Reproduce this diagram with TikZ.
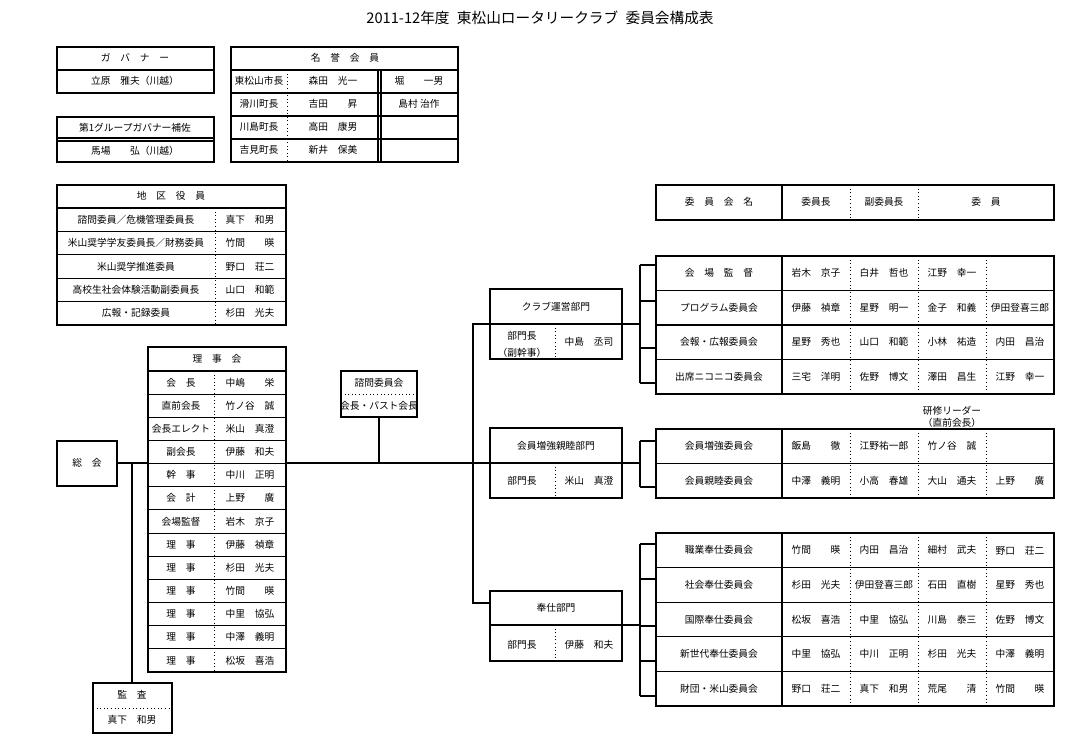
\documentclass[tikz,border=0pt]{standalone}
\usepackage{fontspec}
\newfontfamily\jp{Noto Sans CJK JP}
\newcommand\comrow[6]{%
  \node at (719,#1) {#2};\node at (816,#1) {#3};\node at (884,#1) {#4};
  \node at (952,#1) {#5};\node at (1020,#1) {#6};}
\begin{document}
\begin{tikzpicture}[x=0.75pt,y=-0.75pt,
  every node/.style={font=\jp\fontsize{7.3}{8}\selectfont, inner sep=0pt},
  box/.style={draw, line width=0.8pt},
  ln/.style={line width=0.8pt},
  dot/.style={dotted, line width=0.7pt},
  hv/.style={line width=1.8pt}]
\useasboundingbox (0,0) rectangle (1077,737);
\node[font=\jp\fontsize{11}{13}\selectfont] (title) at (540,18) {2011-12年度\enspace 東松山ロータリークラブ\enspace 委員会構成表};

% Governor
\draw[box] (57,47) rectangle (214,93); \draw[hv] (57,70)--(214,70);
\node at (135,58) {ガ　バ　ナ　ー}; \node at (135,81) {立原　雅夫（川越）};
\draw[box] (57,117) rectangle (214,162); \draw[ln] (57,138)--(214,138) (57,141)--(214,141);
\node at (135,128) {第1グループガバナー補佐}; \node at (135,151) {馬場　　弘（川越）};

% Honorary
\draw[box] (231,47) rectangle (458,162); \draw[hv] (231,70)--(458,70);
\foreach \y in {93,116,139} \draw[ln] (231,\y)--(458,\y);
\draw[dot] (287,70)--(287,162);
\draw[ln] (378,70)--(378,162) (381,70)--(381,162);
\node at (345,58) {名　誉　会　員};
\foreach \a/\b/\c [count=\i] in {東松山市長/森田　光一/堀　　一男, 滑川町長/吉田　　昇/島村 治作, 川島町長/高田　康男/{}, 吉見町長/新井　保美/{}}{
  \node at (259,{58+23*\i}) {\a}; \node at (333,{58+23*\i}) {\b}; \node at (419,{58+23*\i}) {\c};}

% District
\draw[box] (57,185) rectangle (286,325); \draw[hv] (57,208)--(286,208);
\foreach \i in {1,...,4} \draw[ln] (57,{208+23.4*\i})--(286,{208+23.4*\i});
\draw[dot] (215,208)--(215,325);
\node at (171,196) {地　区　役　員};
\foreach \a/\b [count=\i] in {諮問委員／危機管理委員長/真下　和男, 米山奨学学友委員長／財務委員/竹間　　暎, 米山奨学推進委員/野口　荘二, 高校生社会体験活動副委員長/山口　和範, 広報・記録委員/杉田　光夫}{
  \node at (136,{196.3+23.4*\i}) {\a}; \node at (250,{196.3+23.4*\i}) {\b};}

% Board
\draw[box] (148,347) rectangle (286,672); \draw[hv] (148,371)--(286,371);
\foreach \i in {1,...,12} \draw[ln] (148,{371+23.15*\i})--(286,{371+23.15*\i});
\draw[dot] (214,371)--(214,672);
\node (rijikai) at (217,359) {理　事　会};
\foreach \a/\b [count=\i] in {会　長/中嶋　　栄, 直前会長/竹ノ谷　誠, 会長エレクト/米山　真澄, 副会長/伊藤　和夫, 幹　事/中川　正明, 会　計/上野　　廣, 会場監督/岩木　京子, 理　事/伊藤　禎章, 理　事/杉田　光夫, 理　事/竹間　　暎, 理　事/中里　協弘, 理　事/中澤　義明, 理　事/松坂　喜浩}{
  \node at (181,{359.4+23.15*\i}) {\a}; \node at (250,{359.4+23.15*\i}) {\b};}

% General assembly, auditor
\draw[box] (57,441) rectangle (117,486); \node (soukai) at (87,463) {総　会};
\draw[box] (93,683) rectangle (172,733); \draw[dot] (93,708)--(172,708);
\node (kansa) at (132,695) {監　査}; \node at (132,720) {真下　和男};
\coordinate (sE) at (117,463); \coordinate (rW) at (148,463); \coordinate (rE) at (286,463);
\coordinate (j1) at (132,463); \coordinate (kN) at (132,683);
\draw[ln] (sE)--(rW); \draw[ln] (j1)--(kN);

% Advisory
\draw[box] (341,371) rectangle (417,417); \draw[dot] (341,394)--(417,394);
\node at (379,383) {諮問委員会}; \node at (379,406) {会長・パスト会長};
\coordinate (aS) at (379,417); \coordinate (aJ) at (379,463);
\draw[ln] (aS)--(aJ);

% Departments
\coordinate (mW) at (490,463);
\draw[ln] (rE)--(mW);
\coordinate (vT) at (473,324); \coordinate (vB) at (473,603);
\coordinate (cW) at (490,324); \coordinate (sW) at (490,603);
\draw[ln] (cW)--(vT)--(vB)--(sW);

\draw[box] (490,289) rectangle (622,359); \draw[ln] (490,324)--(622,324); \draw[dot] (555,324)--(555,359);
\node at (556,307) {クラブ運営部門}; \node at (522,336) {部門長}; \node at (522,353) {（副幹事）}; \node at (589,342) {中島　丞司};
\draw[box] (490,428) rectangle (622,498); \draw[ln] (490,463)--(622,463); \draw[dot] (555,463)--(555,498);
\node at (556,446) {会員増強親睦部門}; \node at (522,481) {部門長}; \node at (589,481) {米山　真澄};
\draw[box] (490,591) rectangle (622,661); \draw[ln] (490,625)--(622,625); \draw[dot] (555,625)--(555,661);
\node at (556,608) {奉仕部門}; \node at (522,645) {部門長}; \node at (589,645) {伊藤　和夫};

% Brackets
\draw[ln] (622,324)--(640,324) (640,265)--(640,383);
\foreach \y in {265,301,348,383} \draw[ln] (640,\y)--(656,\y);
\draw[ln] (622,463)--(640,463) (640,441)--(640,487);
\foreach \y in {441,487} \draw[ln] (640,\y)--(656,\y);
\draw[ln] (622,625)--(640,625) (640,544)--(640,696);
\foreach \y in {544,579,626,661,696} \draw[ln] (640,\y)--(656,\y);

% Committee header
\draw[box] (656,185) rectangle (1054,220); \draw[ln] (782,185)--(782,220);
\draw[dot] (850,185)--(850,220) (918,185)--(918,220);
\node at (719,202) {委　員　会　名}; \node at (816,202) {委員長}; \node at (884,202) {副委員長}; \node at (986,202) {委　員};

% Club committees
\draw[box] (656,256) rectangle (1054,394);
\foreach \y in {290.5,325,359.5} \draw[ln] (656,\y)--(1054,\y);
\draw[ln] (782,256)--(782,394); \foreach \x in {850,918,986} \draw[dot] (\x,256)--(\x,394);
\comrow{273}{会　場　監　督}{岩木　京子}{白井　哲也}{江野　幸一}{}
\comrow{308}{プログラム委員会}{伊藤　禎章}{星野　明一}{金子　和義}{伊田登喜三郎}
\comrow{342}{会報・広報委員会}{星野　秀也}{山口　和範}{小林　祐造}{内田　昌治}
\comrow{377}{出席ニコニコ委員会}{三宅　洋明}{佐野　博文}{澤田　昌生}{江野　幸一}

\node at (952,411) {研修リーダー}; \node at (952,423) {（直前会長）};

% Member committees
\draw[box] (656,429) rectangle (1054,498); \draw[ln] (656,463.5)--(1054,463.5);
\draw[ln] (782,429)--(782,498); \foreach \x in {850,918,986} \draw[dot] (\x,429)--(\x,498);
\comrow{446}{会員増強委員会}{飯島　　徹}{江野祐一郎}{竹ノ谷　誠}{}
\comrow{481}{会員親睦委員会}{中澤　義明}{小高　春雄}{大山　通夫}{上野　　廣}

% Service committees
\draw[box] (656,533) rectangle (1054,706);
\foreach \y in {567.6,602.2,636.8,671.4} \draw[ln] (656,\y)--(1054,\y);
\draw[ln] (782,533)--(782,706); \foreach \x in {850,918,986} \draw[dot] (\x,533)--(\x,706);
\comrow{550.3}{職業奉仕委員会}{竹間　　暎}{内田　昌治}{細村　武夫}{野口　荘二}
\comrow{584.9}{社会奉仕委員会}{杉田　光夫}{伊田登喜三郎}{石田　直樹}{星野　秀也}
\comrow{619.5}{国際奉仕委員会}{松坂　喜浩}{中里　協弘}{川島　泰三}{佐野　博文}
\comrow{654.1}{新世代奉仕委員会}{中里　協弘}{中川　正明}{杉田　光夫}{中澤　義明}
\comrow{688.7}{財団・米山委員会}{野口　荘二}{真下　和男}{荒尾　　清}{竹間　　暎}
\end{tikzpicture}
\end{document}
